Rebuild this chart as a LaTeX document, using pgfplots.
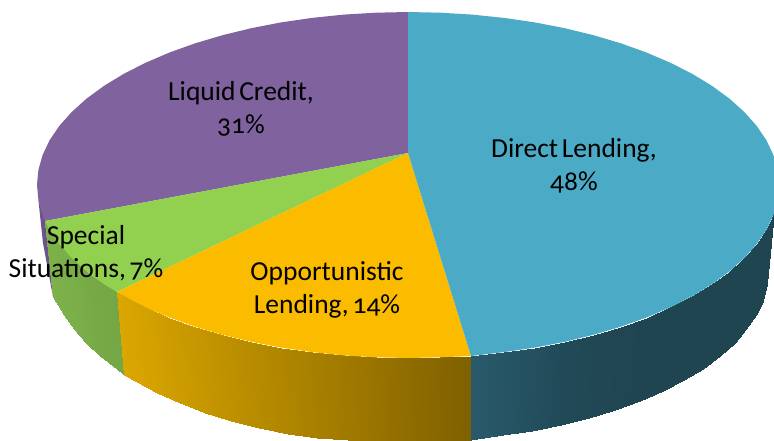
\documentclass[border=0pt]{standalone}
\usepackage{pgfplots}
\usepackage{fontspec}
\setmainfont[Numbers=OldStyle,WordSpace=0.6]{Carlito}
\pgfplotsset{compat=1.18}
\definecolor{cBlue}{RGB}{75,171,198}
\definecolor{cPurple}{RGB}{127,98,158}
\definecolor{cGreen}{RGB}{146,208,80}
\definecolor{cOrange}{RGB}{251,188,0}
\definecolor{cPurpleD}{RGB}{108,82,138}
\pgfplotsset{
  colormap={pie}{rgb255(0cm)=(125,178,74); rgb255(8cm)=(116,166,69); rgb255(10cm)=(218,166,0); rgb255(20cm)=(127,96,0); rgb255(30cm)=(41,90,108); rgb255(36cm)=(33,74,88); rgb255(40cm)=(31,69,80)}
}
\tikzset{lbl/.style={text=black, align=center, font=\fontsize{27.5}{33}\selectfont, inner sep=0pt}}
\begin{document}
\begin{tikzpicture}
\useasboundingbox (0,0) rectangle (774pt,440pt);
\begin{axis}[
  anchor=south west, at={(0,0)},
  scale only axis, width=774pt, height=440pt,
  xmin=0, xmax=774, ymin=0, ymax=440, y dir=reverse,
  hide axis, clip=true,
  colormap name=pie, point meta min=0, point meta max=40,
]
% side walls
\addplot[fill=cPurpleD, draw=none] coordinates {(38.4,200)(43,243)(53,297)(45,221)(38.4,200)};
\addplot[surf, shader=interp, mesh/rows=2, point meta=\thisrow{c}] table {
x y c
45 221 0
49.6 229.8 1
59.4 244.2 2
71.8 258.1 3
86.7 271.5 5
104.1 284.2 7
117 292 8
53 297 0
64.2 315 1
73.6 329.1 2
85.5 342.8 3
100 356 5
116.7 368.5 7
124 375 8
};
\addplot[surf, shader=interp, mesh/rows=2, point meta=\thisrow{c}] table {
x y c
117 292 10
145.7 307.3 10.8
169.5 317.5 11.5
195.2 326.7 12.2
222.5 334.8 13
251.2 341.8 13.8
281.1 347.6 14.6
312 352.1 15.5
343.6 355.4 16.4
375.7 357.3 17.3
408 358 18.2
440.3 357.3 19.1
471 356 20
124 375 10
156.9 393 10.8
179.9 403 11.5
204.7 412.5 12.2
231 420.5 13
258.7 427.5 13.8
287.6 433.5 14.6
317.3 437.5 15.5
347.8 440 16.4
378.8 441 17.3
410 442 18.2
441.2 441 19.1
471 440 20
};
\addplot[surf, shader=interp, mesh/rows=2, point meta=\thisrow{c}] table {
x y c
471 356 30
504 352.1 32
534.9 347.6 34
564.8 341.8 36
593.5 334.8 38
620.8 326.7 39
646.5 317.5 40
670.3 307.3 40
692.2 296.2 40
711.9 284.2 40
729.3 271.5 40
744.2 258.1 40
756.6 244.2 40
766.4 229.8 40
771 221 40
774 212 40
471 440 30
502.7 435.2 32
532.4 430.7 34
561.3 425.1 36
589 418.2 38
615.3 410.3 39
640.1 401.2 40
663.1 391.2 40
684.2 380.3 40
703.3 368.5 40
720 356 40
734.5 342.8 40
746.4 329.1 40
755.8 315 40
762.6 300.5 40
767 284 40
};
% top faces
\addplot[fill=cPurple, draw=none] coordinates {
(408,153)(45,221)(42.6,215)(38.4,200.1)(37,185)(38.4,169.9)(42.6,155)(49.6,140.2)(59.4,125.8)(71.8,111.9)(86.7,98.5)(104.1,85.8)(123.8,73.8)(145.7,62.7)(169.5,52.5)(195.2,43.3)(222.5,35.2)(251.2,28.2)(281.1,22.4)(312,17.9)(343.6,14.6)(375.7,12.7)(408,12)(408,153)};
\addplot[fill=cGreen, draw=none] coordinates {
(408,153)(117,292)(104.1,284.2)(86.7,271.5)(71.8,258.1)(59.4,244.2)(49.6,229.8)(45,221)(408,153)};
\addplot[fill=cOrange, draw=none] coordinates {
(408,153)(471,356)(440.3,357.3)(408,358)(375.7,357.3)(343.6,355.4)(312,352.1)(281.1,347.6)(251.2,341.8)(222.5,334.8)(195.2,326.7)(169.5,317.5)(145.7,307.3)(117,292)(408,153)};
\addplot[fill=cBlue, draw=none] coordinates {
(408,153)(408,12)(440.3,12.7)(472.4,14.6)(504,17.9)(534.9,22.4)(564.8,28.2)(593.5,35.2)(620.8,43.3)(646.5,52.5)(670.3,62.7)(692.2,73.8)(711.9,85.8)(729.3,98.5)(744.2,111.9)(756.6,125.8)(766.4,140.2)(773.4,155)(777.6,169.9)(779,185)(777.6,200.1)(773.4,215)(766.4,229.8)(756.6,244.2)(744.2,258.1)(729.3,271.5)(711.9,284.2)(692.2,296.2)(670.3,307.3)(646.5,317.5)(620.8,326.7)(593.5,334.8)(564.8,341.8)(534.9,347.6)(504,352.1)(471,356)(408,153)};
\node[lbl] at (axis cs:574,166) {Direct Lending,\\48\%};
\node[lbl] at (axis cs:241,109) {Liquid Credit,\\31\%};
\node[lbl] at (axis cs:86,253) {Special\\Situations, 7\%};
\node[lbl] at (axis cs:327,290) {Opportunistic\\Lending, 14\%};
\end{axis}
\end{tikzpicture}
\end{document}
